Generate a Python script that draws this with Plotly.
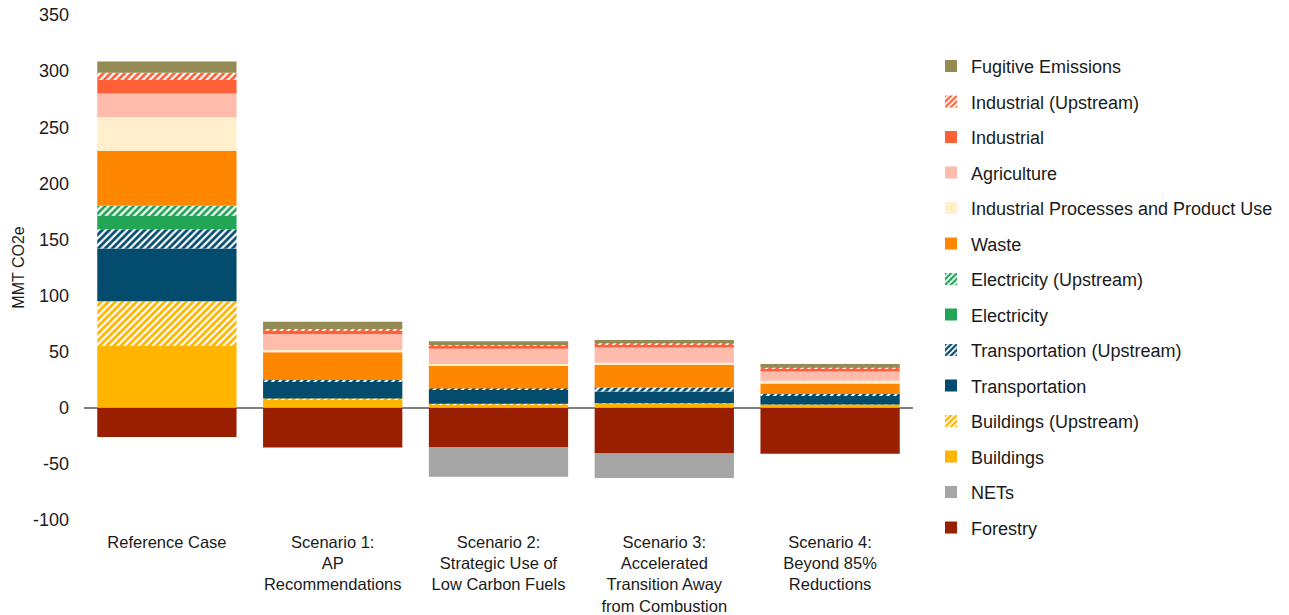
import plotly.graph_objects as go

categories = ["Reference Case", "Scenario 1:<br>AP<br>Recommendations",
              "Scenario 2:<br>Strategic Use of<br>Low Carbon Fuels",
              "Scenario 3:<br>Accelerated<br>Transition Away<br>from Combustion",
              "Scenario 4:<br>Beyond 85%<br>Reductions"]

forestry = [-26, -35.4, -35, -40.8, -41]
nets = [0, 0, -26.4, -21.7, 0]
buildings = [55, 7.5, 3.1, 3.5, 2.5]
buildings_up = [40, 0.7, 0.5, 0.5, 0.5]
transportation = [47, 15, 12.5, 10.6, 8.3]
transportation_up = [17, 1.5, 1.1, 3.5, 1.0]
electricity = [12, 0, 0, 0, 0]
electricity_up = [9, 0, 0, 0, 0]
waste = [49, 24.7, 20, 20.3, 9.4]
ippu = [30, 2, 1.8, 1.8, 2.4]
agriculture = [21, 14.3, 13.7, 13.6, 8.3]
industrial = [12, 3.6, 2.5, 2.6, 2.5]
industrial_up = [6.5, 1, 0.8, 1, 0.8]
fugitive = [10, 6.3, 3.2, 3.0, 3.3]

tick_vals = [-100, -50, 0, 50, 100, 150, 200, 250, 300, 350]
tick_text = ["-100", "-50", "0", "50", "100", "150", "200", "250", "300", "350"]

series = [
    ("Forestry", forestry, "#9A1F00", False),
    ("NETs", nets, "#A6A6A6", False),
    ("Buildings", buildings, "#FFB400", False),
    ("Buildings (Upstream)", buildings_up, "#FFB400", True),
    ("Transportation", transportation, "#034C6D", False),
    ("Transportation (Upstream)", transportation_up, "#034C6D", True),
    ("Electricity", electricity, "#22A656", False),
    ("Electricity (Upstream)", electricity_up, "#22A656", True),
    ("Waste", waste, "#FF8700", False),
    ("Industrial Processes and Product Use", ippu, "#FFEFCD", False),
    ("Agriculture", agriculture, "#FFBCAD", False),
    ("Industrial", industrial, "#FF6038", False),
    ("Industrial (Upstream)", industrial_up, "#FF6038", True),
    ("Fugitive Emissions", fugitive, "#948A54", False),
]

fig = go.Figure()
n = len(series)
for i, (name, vals, color, hatch) in enumerate(series):
    marker = dict(color=color, line=dict(width=0))
    if hatch:
        marker = dict(color=color, line=dict(width=0),
                      pattern=dict(shape="/", fgcolor=color, bgcolor="white",
                                   size=5, solidity=0.55, fillmode="replace",
                                   fgopacity=1))
    fig.add_trace(go.Bar(x=categories, y=vals, name=name, marker=marker,
                         legendgroup=f"g{i}", legendrank=100 + (n - i),
                         width=0.84))

fig.update_layout(
    barmode="relative",
    width=1289, height=615,
    margin=dict(l=84, r=376, t=15, b=95, autoexpand=False),
    plot_bgcolor="white", paper_bgcolor="white",
    font=dict(family="Liberation Sans, Arial, sans-serif", size=18, color="#1a1a1a"),
    yaxis=dict(range=[-100, 350], tickvals=tick_vals, ticktext=tick_text,
               showgrid=False, zeroline=True,
               zerolinecolor="#7f7f7f", zerolinewidth=1.5, automargin=False,
               ticklabelstandoff=14,
               title=dict(text="MMT CO2e", font=dict(size=16), standoff=4),
               ticks="", showline=False),
    xaxis=dict(showgrid=False, showline=False, ticks="", automargin=False,
               ticklabelstandoff=10, tickfont=dict(size=16.5)),
    legend=dict(x=1.0217, y=0.935, xanchor="left", yanchor="top",
                traceorder="grouped", tracegroupgap=9.1,
                font=dict(size=18), itemwidth=30, maxheight=600),
    showlegend=True,
)

fig.write_html("out.html", config={"displayModeBar": False},
               post_script="document.body.style.margin='0';document.body.style.overflow='hidden';")
